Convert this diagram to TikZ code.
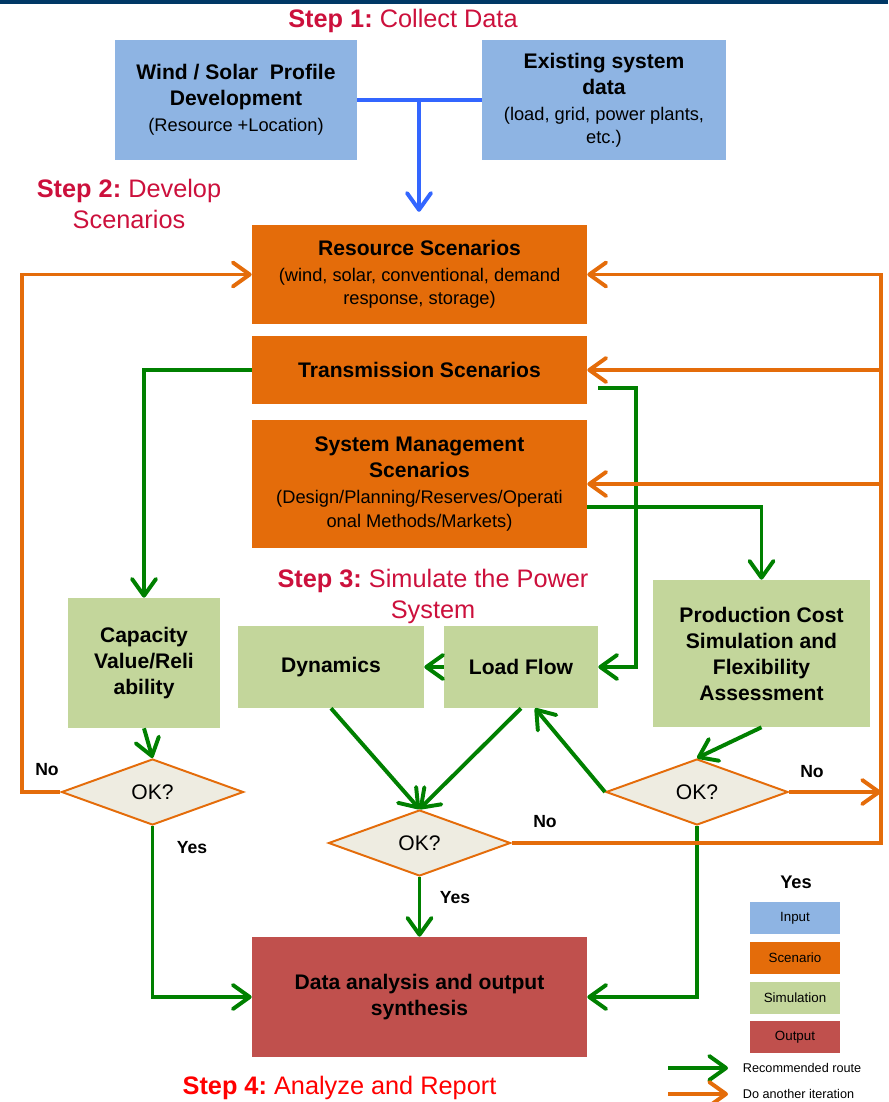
\documentclass[tikz,border=0pt]{standalone}
\usepackage{fontspec}
\setmainfont{Liberation Sans}
\usetikzlibrary{shapes.geometric,arrows.meta}
\definecolor{inputblue}{RGB}{142,180,227}
\definecolor{scenorange}{RGB}{228,108,10}
\definecolor{simgreen}{RGB}{195,214,155}
\definecolor{outred}{RGB}{192,80,77}
\definecolor{okfill}{RGB}{238,236,225}
\definecolor{routegreen}{RGB}{0,128,0}
\definecolor{linkblue}{RGB}{51,102,255}
\definecolor{stepred}{RGB}{204,16,60}
\definecolor{topbar}{RGB}{0,56,101}
\tikzstyle{box}=[rectangle,inner sep=2pt,align=center,font=\fontsize{15}{18.5}\selectfont\bfseries]
\tikzstyle{inputbox}=[box,fill=inputblue]
\tikzstyle{scenbox}=[box,fill=scenorange]
\tikzstyle{simbox}=[box,fill=simgreen]
\tikzstyle{outbox}=[box,fill=outred]
\tikzstyle{keybox}=[rectangle,minimum width=2.25cm,minimum height=0.8cm,font=\fontsize{9.5}{11}\selectfont]
\tikzstyle{okdiamond}=[diamond,draw=scenorange,line width=1.4pt,fill=okfill,minimum width=4.55cm,minimum height=1.65cm,inner sep=0pt,font=\fontsize{15}{18}\selectfont]
\tikzstyle{answer}=[font=\fontsize{12.5}{15}\selectfont\bfseries]
\tikzstyle{steplabel}=[align=center,text=stepred,font=\fontsize{18}{22}\selectfont]
\tikzstyle{barb}=[-{Straight Barb[round,length=4.2mm,width=6mm]}]
\tikzstyle{route}=[routegreen,line width=2.8pt,barb]
\tikzstyle{again}=[scenorange,line width=2.8pt]
\tikzstyle{link}=[linkblue,line width=2.8pt]
\newcommand{\paren}[1]{{\fontsize{13}{16}\selectfont\mdseries #1}}
\newcommand{\steptext}[2]{\textbf{Step #1:}\ #2}

\begin{document}
\begin{tikzpicture}[x=0.025cm,y=-0.025cm]
\useasboundingbox (0,0) rectangle (888,1102);
\fill[topbar] (0,0) rectangle (888,4);

% step 1: inputs
\node[steplabel] (step1) at (403,21) {\steptext{1}{Collect Data}};
\node[inputbox,minimum width=6.05cm,minimum height=3cm] (wind) at (236,100)
  {Wind / Solar~ Profile\\Development\\\paren{(Resource +Location)}};
\node[inputbox,minimum width=6.1cm,minimum height=3cm] (exist) at (604,100)
  {Existing system\\data\\\paren{(load, grid, power plants,}\\[-2pt]\paren{etc.)}};
\coordinate (join) at (419,100);
\draw[link] (wind.east) -- (exist.west);
\draw[link,barb,shorten >=0.33cm] (join) -- (join |- 0,225);

% step 2: scenarios
\node[steplabel] (step2) at (129,204) {\steptext{2}{Develop}\\Scenarios};
\node[scenbox,minimum width=8.375cm,minimum height=2.475cm] (res) at (419.5,274.5)
  {Resource Scenarios\\\paren{(wind, solar, conventional, demand}\\[-2pt]\paren{response, storage)}};
\node[scenbox,minimum width=8.375cm,minimum height=1.7cm] (trans) at (419.5,370)
  {Transmission Scenarios};
\node[scenbox,minimum width=8.375cm,minimum height=3.2cm] (sysm) at (419.5,484)
  {System Management\\Scenarios\\\paren{(Design/Planning/Reserves/Operati}\\[-2pt]\paren{onal Methods/Markets)}};

% step 3: simulation
\node[steplabel] (step3) at (433,596) {\steptext{3}{Simulate the Power}\\System};
\node[simbox,minimum width=3.8cm,minimum height=3.25cm] (cap) at (144,663)
  {Capacity\\Value/Reli\\ability};
\node[simbox,minimum width=4.65cm,minimum height=2.05cm] (dyn) at (331,667) {Dynamics};
\node[simbox,minimum width=3.85cm,minimum height=2.05cm] (lf) at (521,667) {Load Flow};
\node[simbox,minimum width=5.425cm,minimum height=3.675cm] (prod) at (761.5,653.5)
  {Production Cost\\Simulation and\\Flexibility\\Assessment};
\node[okdiamond] (dL) at (152.5,792) {OK?};
\node[okdiamond] (dM) at (419.5,843) {OK?};
\node[okdiamond] (dR) at (697,792) {OK?};

% step 4: output
\node[outbox,minimum width=8.375cm,minimum height=3cm] (out) at (419.5,997)
  {Data analysis and output\\synthesis};
\node[steplabel,text=red] (step4) at (339.5,1088) {\steptext{4}{Analyze and Report}};

% recommended route
\coordinate (tlink) at (598,388);
\draw[route] (trans.west) -| (cap.north);
\draw[route] (tlink) -- (636,388) |- (lf.east);
\draw[route] ([yshift=-0.575cm]sysm.east) -| (prod.north);
\draw[route] (lf.west) -- (dyn.east);
\draw[route] (cap.south) -- (dL.north);
\draw[route] (dyn.south) -- (dM.north);
\draw[route] (lf.south) -- (dM.north);
\draw[route] (prod.south) -- (dR.north);
\draw[route] (dR.west) -- ([xshift=0.35cm]lf.south);
\draw[route] (dL.south) |- (out.west);
\draw[route] (dM.south) -- (out.north);
\draw[route] (dR.south) |- (out.east);

% iterations back to the scenarios
\coordinate (lbus) at (22,0);
\coordinate (rbus) at (881,0);
\draw[again,barb] (dL.west) -| (lbus |- res.west) -- (res.west);
\draw[again,barb] (dM.east) -| (rbus |- res.east) -- (res.east);
\draw[again,barb] (rbus |- trans.east) -- (trans.east);
\draw[again,barb] (rbus |- sysm.east) -- (sysm.east);
\draw[again,barb] (dR.east) -- (rbus |- dR.east);

\node[answer] (noL) at (47,770) {No};
\node[answer] (yesL) at (192,848) {Yes};
\node[answer] (noM) at (545,822) {No};
\node[answer] (yesM) at (455,898) {Yes};
\node[answer] (noR) at (812,772) {No};

% key
\node[answer,font=\fontsize{13}{15}\selectfont\bfseries] (keyhead) at (796,882) {Yes};
\node[keybox,fill=inputblue] (kin) at (795,918) {Input};
\node[keybox,fill=scenorange] (kscen) at (795,958) {Scenario};
\node[keybox,fill=simgreen] (ksim) at (795,998) {Simulation};
\node[keybox,fill=outred] (kout) at (795,1037) {Output};
\coordinate (kr1) at (668,1068);
\coordinate (kr2) at (728,1068);
\coordinate (ka1) at (668,1094);
\coordinate (ka2) at (728,1094);
\draw[route] (kr1) -- (kr2);
\draw[again,barb] (ka1) -- (ka2);
\node[anchor=west,font=\fontsize{9}{11}\selectfont] (kroute) at (738,1068) {Recommended route};
\node[anchor=west,font=\fontsize{9}{11}\selectfont] (kagain) at (738,1094) {Do another iteration};
\end{tikzpicture}
\end{document}
